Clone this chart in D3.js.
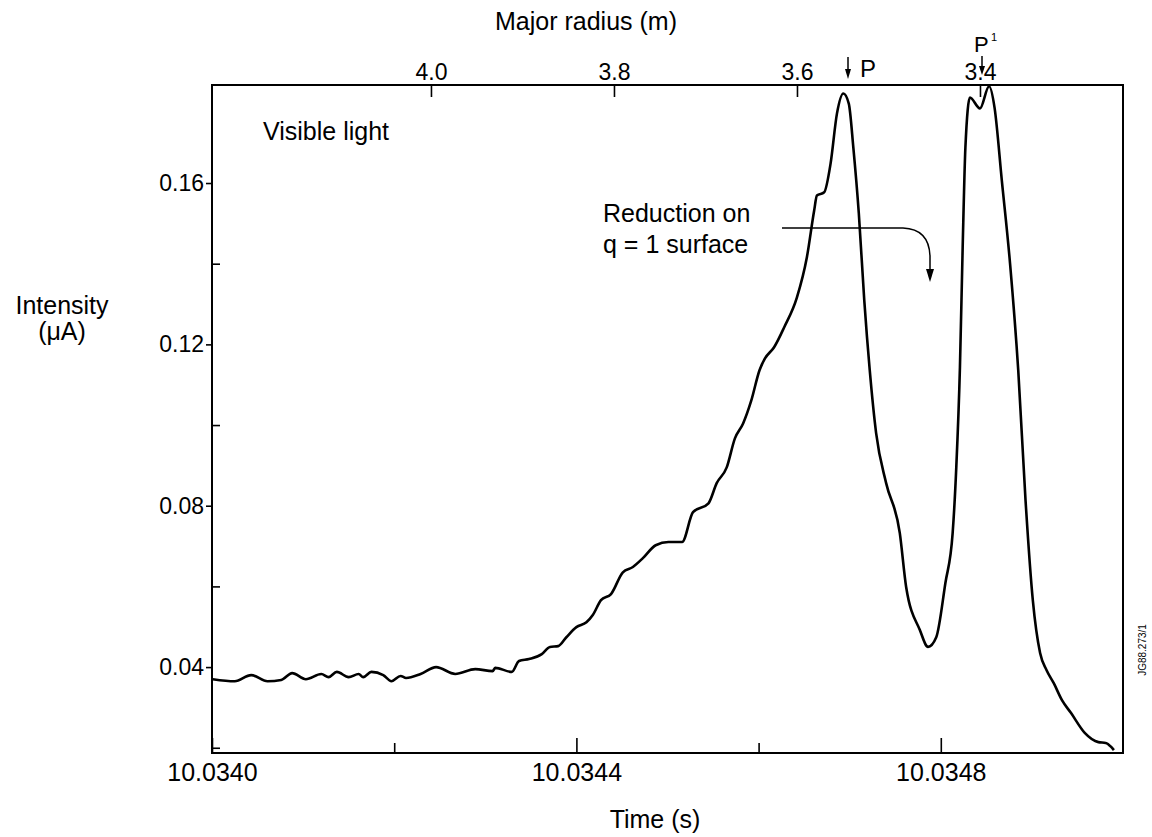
<!DOCTYPE html>
<html>
<head>
<meta charset="utf-8">
<script src="https://cdn.jsdelivr.net/npm/d3@7"></script>
<style>
  html, body { margin: 0; padding: 0; background: #fff; }
  svg { display: block; font-family: "Liberation Sans", Arial, sans-serif; }
</style>
</head>
<body>
<svg id="chart" width="1152" height="837"></svg>
<script>
// ---- Data ----
const timeValues = [
  10.034001, 10.034025, 10.034043, 10.034061, 10.034076, 10.034088, 10.034103, 10.034120,
  10.034128, 10.034137, 10.034150, 10.034161, 10.034166, 10.034175, 10.034188, 10.034197,
  10.034207, 10.034213, 10.034229, 10.034246, 10.034267, 10.034289, 10.034308, 10.034311,
  10.034329, 10.034337, 10.034348, 10.034362, 10.034371, 10.034380, 10.034389, 10.034400,
  10.034411, 10.034418, 10.034427, 10.034438, 10.034451, 10.034462, 10.034473, 10.034487,
  10.034501, 10.034516, 10.034528, 10.034545, 10.034554, 10.034565, 10.034574, 10.034583,
  10.034592, 10.034601, 10.034607, 10.034617, 10.034628, 10.034642, 10.034653, 10.034661,
  10.034664, 10.034672, 10.034679, 10.034686, 10.034693, 10.034699, 10.034704, 10.034710,
  10.034716, 10.034722, 10.034729, 10.034740, 10.034755, 10.034762, 10.034777, 10.034786,
  10.034795, 10.034805, 10.034813, 10.034817, 10.034821, 10.034824, 10.034827, 10.034832,
  10.034843, 10.034853, 10.034859, 10.034867, 10.034876, 10.034885, 10.034893, 10.034901,
  10.034909, 10.034916, 10.034924, 10.034933, 10.034943, 10.034958, 10.034973, 10.034981,
  10.034987, 10.034990
];
const intensityValues = [
  0.0370, 0.0365, 0.0380, 0.0365, 0.0368, 0.0385, 0.0370, 0.0383,
  0.0375, 0.0388, 0.0375, 0.0383, 0.0375, 0.0388, 0.0380, 0.0365,
  0.0378, 0.0373, 0.0383, 0.0400, 0.0383, 0.0395, 0.0390, 0.0398,
  0.0388, 0.0415, 0.0420, 0.0432, 0.0450, 0.0452, 0.0474, 0.0499,
  0.0511, 0.0529, 0.0566, 0.0581, 0.0635, 0.0648, 0.0670, 0.0702,
  0.0710, 0.0710, 0.0784, 0.0806, 0.0856, 0.0895, 0.0967, 0.1004,
  0.1061, 0.1136, 0.1165, 0.1193, 0.1242, 0.1316, 0.1416, 0.1532,
  0.1569, 0.1577, 0.1648, 0.1772, 0.1822, 0.1797, 0.1688, 0.1525,
  0.1309, 0.1136, 0.0980, 0.0856, 0.0732, 0.0598, 0.0492, 0.0450,
  0.0474, 0.0608, 0.0732, 0.0895, 0.1143, 0.1440, 0.1688, 0.1812,
  0.1785, 0.1840, 0.1787, 0.1606, 0.1401, 0.1136, 0.0814, 0.0566,
  0.0435, 0.0393, 0.0360, 0.0318, 0.0286, 0.0237, 0.0214, 0.0212,
  0.0202, 0.0194
];
const timeTickLabels = [10.0340, 10.0344, 10.0348];
const timeMinorTicks = [10.0342, 10.0346];
const intensityTickLabels = [0.04, 0.08, 0.12, 0.16];
const intensityMinorTicks = [0.02, 0.06, 0.10, 0.14];
const radiusTickLabels = [4.0, 3.8, 3.6, 3.4];

(function () {
// ---- Layout ----
const svg = d3.select("#chart");
const pL = 212, pR = 1123, pT = 85, pB = 753;

const x = d3.scaleLinear().domain([10.0340, 10.0350]).range([pL, pR]);
const y = d3.scaleLinear().domain([0.0187, 0.1843]).range([pB, pT]);
const r = d3.scaleLinear().domain([4.2393, 3.2437]).range([pL, pR]);

const data = timeValues.map((t, i) => ({ t, v: intensityValues[i] }));

// frame
svg.append("rect")
  .attr("x", pL).attr("y", pT)
  .attr("width", pR - pL).attr("height", pB - pT)
  .attr("fill", "none").attr("stroke", "#000").attr("stroke-width", 2);

function styleAxis(g, fs) {
  g.select(".domain").remove();
  g.selectAll(".tick line").attr("stroke", "#000").attr("stroke-width", 1.6);
  g.selectAll(".tick text").attr("fill", "#000").attr("font-size", fs)
    .attr("font-family", "'Liberation Sans', Arial, sans-serif");
}

// bottom axis
svg.append("g").attr("transform", `translate(0,${pB})`)
  .call(d3.axisBottom(x).tickValues(timeTickLabels).tickSize(-15).tickPadding(10)
    .tickFormat(d3.format(".4f")))
  .call(g => styleAxis(g, 25));
svg.append("g").attr("transform", `translate(0,${pB})`)
  .call(d3.axisBottom(x).tickValues(timeMinorTicks).tickSize(-10).tickFormat(""))
  .call(g => styleAxis(g, 25));

// left axis
svg.append("g").attr("transform", `translate(${pL},0)`)
  .call(d3.axisLeft(y).tickValues(intensityTickLabels).tickSize(6).tickPadding(2)
    .tickFormat(d3.format(".2f")))
  .call(g => styleAxis(g, 23));
svg.append("g").attr("transform", `translate(${pL},0)`)
  .call(d3.axisLeft(y).tickValues(intensityMinorTicks).tickSize(-8).tickFormat(""))
  .call(g => styleAxis(g, 23));

// top axis
svg.append("g").attr("transform", `translate(0,${pT})`)
  .call(d3.axisTop(r).tickValues(radiusTickLabels).tickSize(-12).tickPadding(5)
    .tickFormat(d3.format(".1f")))
  .call(g => styleAxis(g, 23));

// line
const line = d3.line().x(d => x(d.t)).y(d => y(d.v)).curve(d3.curveMonotoneX);
svg.append("path").datum(data)
  .attr("d", line)
  .attr("fill", "none").attr("stroke", "#000").attr("stroke-width", 2.6)
  .attr("stroke-linejoin", "round");

// texts
const txt = (s, px, py, fs, anchor = "start") =>
  svg.append("text").attr("x", px).attr("y", py).attr("font-size", fs)
    .attr("text-anchor", anchor).attr("fill", "#000").text(s);

txt("Major radius (m)", 586, 30, 25, "middle");
txt("Time (s)", 655, 828, 25, "middle");
txt("Intensity", 62, 314, 25, "middle");
txt("(\u03bcA)", 62, 340, 25, "middle");
txt("Visible light", 263, 140, 25);
txt("Reduction on", 603, 222, 25);
txt("q = 1 surface", 603, 253, 25);

// P markers
const arrowHead = (px, py, w, h) =>
  svg.append("path").attr("d", `M${px},${py} L${px - w / 2},${py - h} L${px + w / 2},${py - h} Z`)
    .attr("fill", "#000");

svg.append("line").attr("x1", 848).attr("x2", 848).attr("y1", 57).attr("y2", 72)
  .attr("stroke", "#000").attr("stroke-width", 1.5);
arrowHead(848, 79, 6, 10);
txt("P", 860, 77, 24);

svg.append("line").attr("x1", 982).attr("x2", 982).attr("y1", 56).attr("y2", 68)
  .attr("stroke", "#000").attr("stroke-width", 1.5);
arrowHead(982, 75, 6, 9);
txt("P", 974, 52, 22);
txt("1", 991, 41, 11);

// reduction annotation arrow
svg.append("path")
  .attr("d", "M782,228 L903,228 Q929,229 930,256 L930,270")
  .attr("fill", "none").attr("stroke", "#000").attr("stroke-width", 1.5);
arrowHead(930, 282, 8, 13);

// side code
svg.append("text").attr("transform", "translate(1146,650) rotate(-90)")
  .attr("text-anchor", "middle").attr("font-size", 10).attr("fill", "#000")
  .text("JG88.273/1");
})();
</script>
</body>
</html>
